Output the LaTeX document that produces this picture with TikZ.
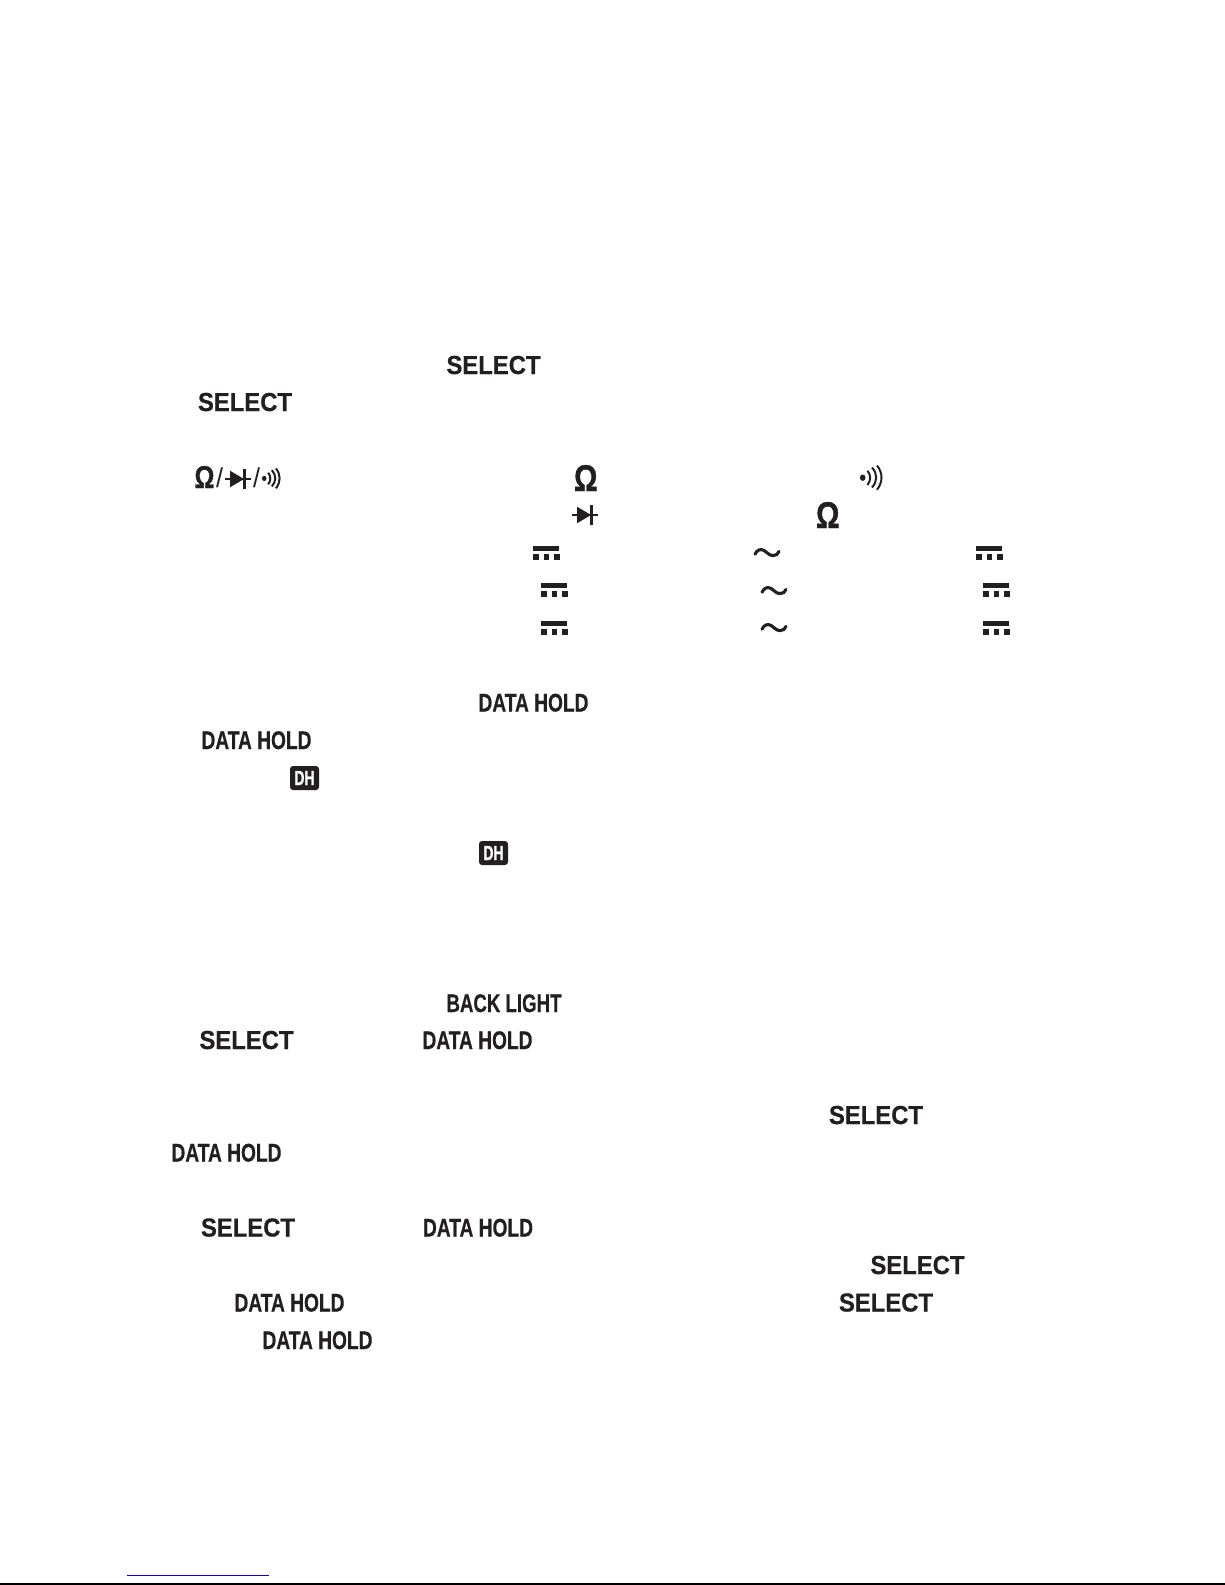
\documentclass[tikz,border=0pt]{standalone}
\usepackage{fontspec}
\usepackage{graphicx}
\setmainfont{Liberation Sans}
\newfontfamily\heavy[BoldFeatures={FakeBold=0.5}]{Liberation Sans}
\newfontfamily\heavier[BoldFeatures={FakeBold=1.2}]{Liberation Sans}
\definecolor{ink}{HTML}{231F20}
\tikzset{
  keytext/.style={anchor=base west,inner sep=0pt,outer sep=0pt,text=ink,font=\heavy\bfseries},
  symtext/.style={anchor=south west,inner sep=0pt,outer sep=0pt,text=ink,font=\heavier\bfseries},
  slashtext/.style={anchor=south west,inner sep=0pt,outer sep=0pt,text=ink,font=\heavy\bfseries},
  dhbadge/.style={anchor=north west,inner sep=0pt,outer sep=0pt,minimum width=29pt,minimum height=24pt,fill=ink,rounded corners=3pt,text=white,font=\heavier\bfseries},
  dcpic/.pic={
    \fill[ink] (0.3,0) rectangle (26,5.2);
    \fill[ink] (0,8) rectangle (6.2,14);
    \fill[ink] (10.5,8) rectangle (16.4,14);
    \fill[ink] (21,8) rectangle (27,14);
  },
  tildepic/.pic={
    \draw[ink,line width=3.1pt,line cap=round] (1,7.2) .. controls (3,3.2) and (6,1.4) .. (10,3.4)
      .. controls (13,5) and (15,8.6) .. (19,8.6)
      .. controls (22,8.6) and (24,7.2) .. (25,4.4);
  },
  diodepic/.pic={
    \draw[ink,line width=2.1pt] (0,10) -- (26,10);
    \fill[ink] (5.2,1.8) -- (19,10) -- (5.2,18.2) -- cycle;
    \draw[ink,line width=2.3pt] (19.4,0) -- (19.4,20);
  },
  speakerpic/.pic={
    \fill[ink] (2.7,12.7) ellipse (2.8 and 3.2);
    \draw[ink,line width=2pt] (7.5,5.7) .. controls (11,10) and (11,15.4) .. (7.5,20);
    \draw[ink,line width=2pt] (12,2.5) .. controls (17.6,9) and (17.6,16) .. (12,22.5);
    \draw[ink,line width=2pt] (17,0.5) .. controls (23,8) and (23,17) .. (17,24.8);
  },
}
\newcommand{\kselect}{\resizebox{94pt}{18.2pt}{SELECT}}
\newcommand{\kdata}{\resizebox{110pt}{17.8pt}{DATA HOLD}}
\newcommand{\kback}{\resizebox{115pt}{17.8pt}{BACK LIGHT}}
\newcommand{\kdh}{\resizebox{20pt}{14pt}{DH}}
\newcommand{\komega}{\resizebox{23.5pt}{26pt}{Ω}}
\begin{document}
\begin{tikzpicture}[x=1pt,y=-1pt]
\useasboundingbox (0,0) rectangle (1225,1585);
\fill[white] (0,0) rectangle (1225,1585);
% select / data-hold key labels
\node[keytext] (sel1) at (446.5,374) {\kselect};
\node[keytext] (sel2) at (198,411) {\kselect};
\node[keytext] (dat1) at (478.5,711.5) {\kdata};
\node[keytext] (dat2) at (201.5,749) {\kdata};
\node[keytext] (bck1) at (446.5,1012) {\kback};
\node[keytext] (sel3) at (199.5,1049) {\kselect};
\node[keytext] (dat3) at (422.5,1049) {\kdata};
\node[keytext] (sel4) at (829,1124) {\kselect};
\node[keytext] (dat4) at (171.5,1161.5) {\kdata};
\node[keytext] (sel5) at (201,1236.5) {\kselect};
\node[keytext] (dat5) at (423,1236.5) {\kdata};
\node[keytext] (sel6) at (870.5,1274) {\kselect};
\node[keytext] (dat6) at (234.5,1311.5) {\kdata};
\node[keytext] (sel7) at (839,1311.5) {\kselect};
\node[keytext] (dat7) at (262.5,1349) {\kdata};
% function key symbols
\node[symtext] (om0) at (194.5,488) {\resizebox{20pt}{22pt}{Ω}};
\node[slashtext] (sl1) at (216,488) {\resizebox*{7pt}{20pt}{\mdseries /}};
\pic[scale=1] at (225,469) {diodepic};
\node[slashtext] (sl2) at (253,488) {\resizebox*{7pt}{20pt}{\mdseries /}};
\pic[xscale=0.82,yscale=0.82] at (262,468) {speakerpic};
\node[symtext] (om1) at (574,491) {\komega};
\node[symtext] (om2) at (816,528) {\komega};
\pic at (860,465) {speakerpic};
\pic at (572,505) {diodepic};
% range symbols
\pic at (533,546) {dcpic};
\pic at (541,583) {dcpic};
\pic at (541,621) {dcpic};
\pic at (754,547) {tildepic};
\pic at (761,585) {tildepic};
\pic at (761,622) {tildepic};
\pic at (976,546) {dcpic};
\pic at (983,583) {dcpic};
\pic at (983,621) {dcpic};
% DH badges
\node[dhbadge] (dh1) at (290,766) {\kdh};
\node[dhbadge] (dh2) at (479,841) {\kdh};
% footer rules
\coordinate (bl) at (127,1575.5);
\coordinate (br) at (269,1575.5);
\coordinate (kl) at (0,1584);
\coordinate (kr) at (1224.5,1584);
\coordinate (kt) at (1224.5,1582.5);
\draw[blue,line width=1pt] (bl) -- (br);
\draw[black,line width=2pt] (kl) -- (kr);
\draw[black,line width=1pt] (kt) -- (kr);
\end{tikzpicture}
\end{document}
